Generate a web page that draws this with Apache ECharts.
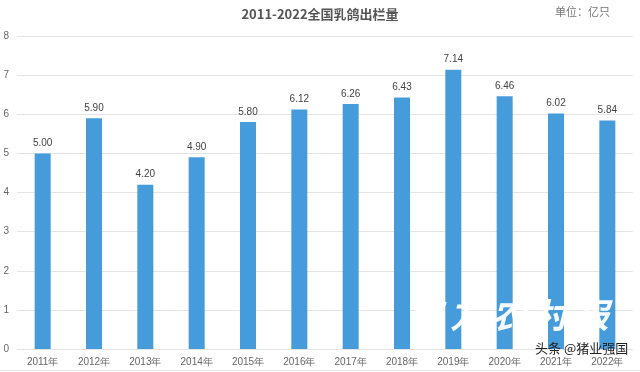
<!DOCTYPE html>
<html><head><meta charset="utf-8">
<script src="https://cdn.jsdelivr.net/npm/echarts@6/dist/echarts.min.js"></script>
<style>html,body{margin:0;padding:0;background:#fff}#c{width:640px;height:372px}</style>
</head><body><div id="c"></div>
<script>
const categories = ['2011年','2012年','2013年','2014年','2015年','2016年','2017年','2018年','2019年','2020年','2021年','2022年'];
const values = [5.00,5.90,4.20,4.90,5.80,6.12,6.26,6.43,7.14,6.46,6.02,5.84];
const chart = echarts.init(document.getElementById('c'));
chart.setOption({
  animation:false,
  title:{text:'2011-2022全国乳鸽出栏量',left:'center',top:3,textStyle:{fontSize:13,fontWeight:'bold',color:'#555',fontFamily:'Noto Sans CJK SC'}},
  graphic:[
    {type:'text',left:555,top:6,style:{text:'单位：亿只',fontSize:11,fill:'#777',fontFamily:'Noto Sans CJK SC'}},
    {type:'text',left:408,top:298,z:100,style:{text:'南 方 农 村 报',fontSize:34,fontWeight:'bold',fontStyle:'italic',fill:'rgba(255,255,255,0.95)',fontFamily:'Noto Sans CJK SC'}},
    {type:'text',left:535,top:342,z:101,style:{text:'头条 @猪业强国',fontSize:13,fill:'#222',fontFamily:'Noto Sans CJK SC'}},
    {type:'rect',shape:{x:0,y:370,width:640,height:1},style:{fill:'#e6e6e6'}}
  ],
  grid:{left:17,right:7,top:36,bottom:23,containLabel:false},
  xAxis:{type:'category',data:categories,axisLine:{show:false},axisTick:{show:false},
    axisLabel:{color:'#666',fontSize:10,margin:8,fontFamily:'Liberation Sans'}},
  yAxis:{type:'value',min:0,max:8,interval:1,axisLine:{show:false},axisTick:{show:false},
    axisLabel:{color:'#666',fontSize:10,margin:8,fontFamily:'Liberation Sans'},
    splitLine:{lineStyle:{color:'#e4e4e4'}}},
  series:[{type:'bar',data:values,barWidth:16,itemStyle:{color:'#469bdb'},
    label:{show:true,position:'top',color:'#444',fontSize:10,fontFamily:'Liberation Sans',formatter:p=>p.value.toFixed(2)}}]
});
</script></body></html>
